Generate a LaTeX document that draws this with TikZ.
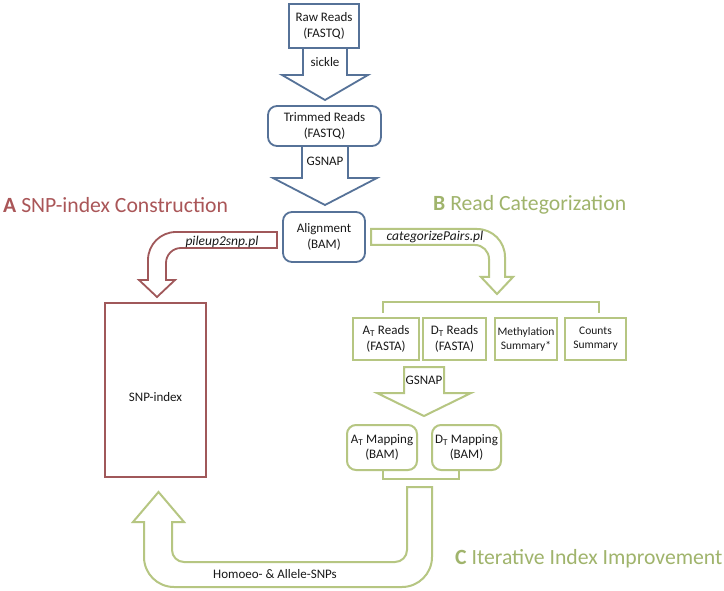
\documentclass[tikz,border=0pt]{standalone}
\usepackage{fontspec}
\setmainfont{Carlito}
\definecolor{bluec}{RGB}{86,114,152}
\definecolor{redc}{RGB}{160,88,90}
\definecolor{greenc}{RGB}{182,198,130}
\definecolor{titlegreen}{RGB}{160,180,108}
\definecolor{titlered}{RGB}{170,86,88}
\definecolor{txt}{RGB}{25,25,25}
\begin{document}
\begin{tikzpicture}[x=1pt,y=-1pt,
  boxtext/.style={font=\fontsize{13}{15.5}\selectfont, align=center, text=txt, inner sep=0pt},
  smalltext/.style={font=\fontsize{11.5}{14}\selectfont, align=center, text=txt, inner sep=0pt},
  bluebox/.style={boxtext, draw=bluec, line width=1.8pt},
  blueround/.style={bluebox, rounded corners=9pt},
  redbox/.style={draw=redc, line width=1.8pt, inner sep=0pt},
  greenbox/.style={boxtext, draw=greenc, line width=2pt},
  greenround/.style={greenbox, rounded corners=9pt},
  blueline/.style={draw=bluec, line width=1.8pt},
  redline/.style={draw=redc, line width=1.8pt},
  greenline/.style={draw=greenc, line width=2pt},
  lbl/.style={font=\fontsize{13}{15.5}\selectfont, text=txt, inner sep=0pt},
  ilbl/.style={font=\fontsize{13.5}{16}\selectfont\itshape, text=txt, inner sep=0pt},
  titletext/.style={font=\fontsize{21.7}{26}\selectfont, anchor=west, inner sep=0pt}
]
\fill[white] (0,0) rectangle (724,591);
\useasboundingbox (0,0) rectangle (724,591);

% titles
\node[titletext, text=titlered] (ta) at (3,205) {\textbf{A} SNP-index Construction};
\node[titletext, text=titlegreen] (tb) at (433,205) {\textbf{B} Read Categorization};
\node[titletext, text=titlegreen] (tc) at (455,559) {\textbf{C} Iterative Index Improvement};

% blue pipeline
\node[bluebox, minimum width=70pt, minimum height=44pt] (raw) at (324,26) {Raw Reads\\(FASTQ)};
\node[blueround, minimum width=113pt, minimum height=40pt] (trim) at (324.5,126) {Trimmed Reads\\(FASTQ)};
\node[blueround, minimum width=82pt, minimum height=50pt] (align) at (324,237) {Alignment\\(BAM)};

\draw[blueline] (303,48) -- (303,75) -- (282,75) -- (325,100) -- (368,75) -- (347,75) -- (347,48);
\node[lbl] (sickle) at (325,62) {sickle};
\draw[blueline] (302,146) -- (302,178) -- (273,178) -- (325,205) -- (377,178) -- (348,178) -- (348,146);
\node[lbl] (gsnap1) at (325,161) {GSNAP};

% A: red arrow and SNP-index
\draw[redline] (277,232) -- (176,232) .. controls (160.5,232) and (148,244.5) .. (148,260)
  -- (148,280) -- (139,280) -- (157,297) -- (175,280) -- (166,280) -- (166,263)
  .. controls (166,254.7) and (172.7,248) .. (181,248) -- (277,248) -- cycle;
\node[ilbl] (pileup) at (222,242) {pileup2snp.pl};
\node[redbox, minimum width=101pt, minimum height=174pt] (snp) at (155.5,390) {};
\node[lbl] (snplbl) at (155.5,397) {SNP-index};

% B: green arrow and categories
\draw[greenline] (371,229) -- (477,229) .. controls (492.5,229) and (505,241.5) .. (505,257)
  -- (505,277) -- (513,277) -- (497,294) -- (481,277) -- (489,277) -- (489,259)
  .. controls (489,251.3) and (482.7,245) .. (475,245) -- (371,245) -- cycle;
\node[ilbl] (categ) at (435,237) {categorizePairs.pl};
\draw[greenline] (383,313) -- (383,302) -- (599,302) -- (599,313);

\node[greenbox, minimum width=66pt, minimum height=42pt] (atr) at (386,339) {A\textsubscript{T} Reads\\(FASTA)};
\node[greenbox, minimum width=63pt, minimum height=42pt] (dtr) at (454.5,339) {D\textsubscript{T} Reads\\(FASTA)};
\node[greenbox, smalltext, minimum width=62pt, minimum height=42pt] (meth) at (526,339) {Methylation\\Summary*};
\node[greenbox, smalltext, minimum width=61pt, minimum height=42pt] (cnt) at (595.5,339) {Counts\\Summary};

\draw[greenline] (404,367) -- (444,367) -- (444,393) -- (471,393) -- (424,416) -- (377,393) -- (404,393) -- cycle;
\node[lbl] (gsnap2) at (424,380) {GSNAP};

\node[greenround, minimum width=70pt, minimum height=45pt] (atm) at (382,447.5) {A\textsubscript{T} Mapping\\(BAM)};
\node[greenround, minimum width=69pt, minimum height=45pt] (dtm) at (466.5,447.5) {D\textsubscript{T} Mapping\\(BAM)};
\draw[greenline] (383,470) -- (383,479) -- (459,479) -- (459,470);

% C: return arrow
\draw[greenline] (407,487) -- (432,487) -- (432,557) .. controls (432,573.6) and (418.6,587) .. (402,587)
  -- (174,587) .. controls (157.4,587) and (144,573.6) .. (144,557)
  -- (144,522) -- (133,522) -- (158.5,492) -- (184,522) -- (172,522) -- (172,550)
  .. controls (172,556.6) and (177.4,562) .. (184,562) -- (395,562)
  .. controls (401.6,562) and (407,556.6) .. (407,550) -- cycle;
\node[lbl] (snps) at (275,574) {Homoeo- \& Allele-SNPs};
\end{tikzpicture}
\end{document}
